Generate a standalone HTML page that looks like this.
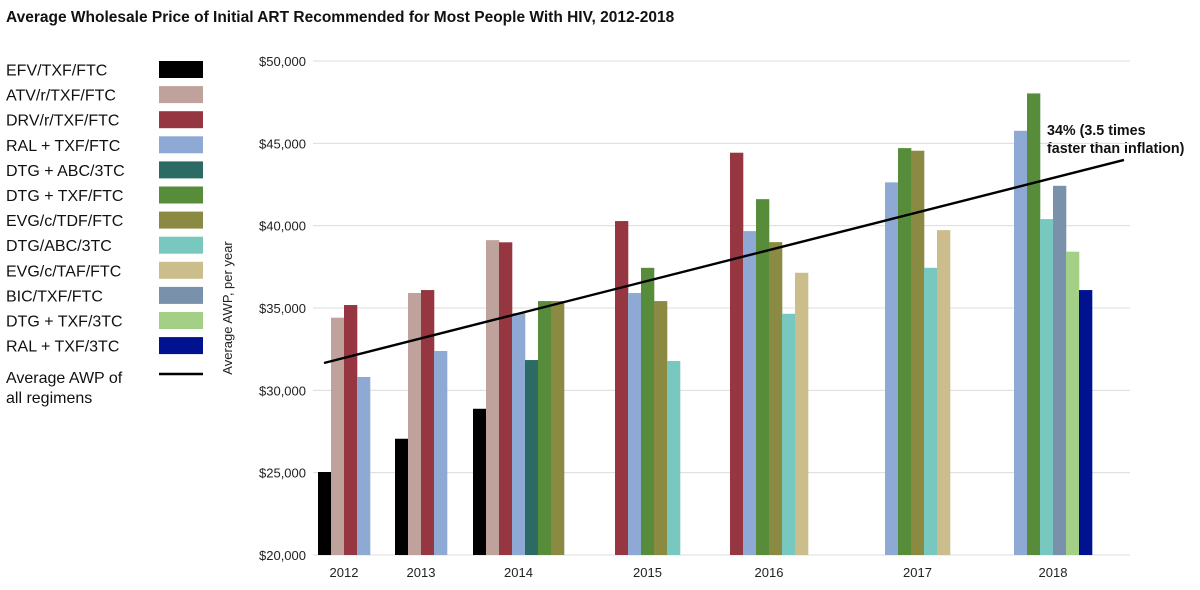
<!DOCTYPE html>
<html><head><meta charset="utf-8">
<style>
html,body{margin:0;padding:0;background:#fff;}
svg{display:block;font-family:"Liberation Sans",Arial,sans-serif;}
</style></head>
<body>
<svg id="chart" width="1200" height="590" viewBox="0 0 1200 590">
<text x="6" y="22" font-size="15.5" font-weight="bold" fill="#111">Average Wholesale Price of Initial ART Recommended for Most People With HIV, 2012-2018</text>
<text transform="translate(232,308) rotate(-90)" text-anchor="middle" font-size="13" fill="#222">Average AWP, per year</text>
<text x="1047" y="135" font-size="14.3" font-weight="bold" fill="#111">34% (3.5 times</text>
<text x="1047" y="153" font-size="14.3" font-weight="bold" fill="#111">faster than inflation)</text>
</svg>
<script>
const seriesNames = ["EFV/TXF/FTC","ATV/r/TXF/FTC","DRV/r/TXF/FTC","RAL + TXF/FTC","DTG + ABC/3TC","DTG + TXF/FTC","EVG/c/TDF/FTC","DTG/ABC/3TC","EVG/c/TAF/FTC","BIC/TXF/FTC","DTG + TXF/3TC","RAL + TXF/3TC"];
const seriesColors = ["#000000","#bfa29b","#953640","#8eaad4","#2b6b63","#578d3a","#8b8a42","#79c8bf","#cbbd8c","#7a91ab","#a3cf87","#00128f"];
const years = ["2012","2013","2014","2015","2016","2017","2018"];
const sEFV  = [25040,27060,28880,null,null,null,null];
const sATV  = [34410,35910,39120,null,null,null,null];
const sDRV  = [35180,36090,38990,40280,44430,null,null];
const sRALF = [30810,32390,34690,35910,39670,42630,45760];
const sDTGA = [null,null,31840,null,null,null,null];
const sDTGF = [null,null,35420,37440,41610,44710,48030];
const sEVGT = [null,null,35420,35420,39000,44550,null];
const sDAB  = [null,null,null,31780,34650,37440,40400];
const sEVGA = [null,null,null,null,37140,39730,null];
const sBIC  = [null,null,null,null,null,null,42420];
const sDTG3 = [null,null,null,null,null,null,38420];
const sRAL3 = [null,null,null,null,null,null,36090];
const allSeries = [sEFV,sATV,sDRV,sRALF,sDTGA,sDTGF,sEVGT,sDAB,sEVGA,sBIC,sDTG3,sRAL3];
const yTicks = [20000,25000,30000,35000,40000,45000,50000];
const avgLine = [31660,43990];

const NS="http://www.w3.org/2000/svg";
const svg=document.getElementById('chart');
function el(t,a){const e=document.createElementNS(NS,t);for(const k in a)e.setAttribute(k,a[k]);svg.appendChild(e);return e;}
const yMin=20000,yMax=50000,yBot=555,yTop=61;
function y(v){return yBot-(v-yMin)/(yMax-yMin)*(yBot-yTop);}
const bw=13;
const gaps=[25,26,51,50,77,64];
yTicks.forEach(t=>{
  const g=el('line',{x1:313,x2:1130,y1:y(t),y2:y(t),stroke:'#dcdcdc','stroke-width':1});
  
  
  const tx=el('text',{x:306,y:y(t)+5,'text-anchor':'end','font-size':13,fill:'#222'});
  tx.textContent='$'+t.toLocaleString('en-US');
  
  
});
let x=318;
years.forEach((yr,i)=>{
  const start=x;
  allSeries.forEach((s,si)=>{
    const v=s[i];
    if(v==null)return;
    const r=el('rect',{x:x,y:y(v),width:bw+0.3,height:yBot-y(v),fill:seriesColors[si]});
    
    
    x+=bw;
  });
  const lab=el('text',{x:(start+x)/2,y:577,'text-anchor':'middle','font-size':13,fill:'#222'});
  lab.textContent=yr;
  
  
  if(i<gaps.length)x+=gaps[i];
});
const ln=el('line',{x1:324,y1:y(avgLine[0]),x2:1124,y2:y(avgLine[1]),stroke:'#000','stroke-width':2.4});


seriesNames.forEach((n,i)=>{
  const cy=69.5+i*25.1;
  const t=el('text',{x:6,y:cy+6,'font-size':16,fill:'#111'});
  t.textContent=n;
  
  
  const r=el('rect',{x:159,y:cy-8.5,width:44,height:17,fill:seriesColors[i]});
  
  
});
const ll=el('line',{x1:159,x2:203,y1:374,y2:374,stroke:'#000','stroke-width':2.5});


const t1=el('text',{x:6,y:383,'font-size':16,fill:'#111'});t1.textContent='Average AWP of';


const t2=el('text',{x:6,y:403,'font-size':16,fill:'#111'});t2.textContent='all regimens';


</script>
</body></html>
